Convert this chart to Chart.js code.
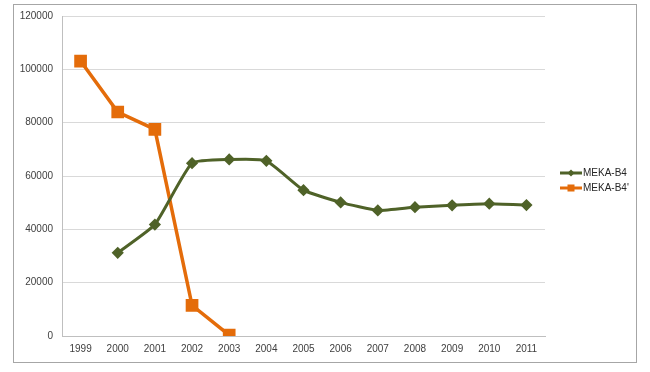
<!DOCTYPE html>
<html>
<head>
<meta charset="utf-8">
<script src="https://cdn.jsdelivr.net/npm/chart.js@4"></script>
<style>
  html, body { margin: 0; padding: 0; background: #fff; }
  #wrap { position: relative; width: 650px; height: 372px; }
  #frame { position: absolute; left: 13px; top: 4px; width: 624px; height: 359px; border: 1px solid #a6a6a6; box-sizing: border-box; }
  canvas { position: absolute; left: 0; top: 0; }
</style>
</head>
<body>
<div id="wrap">
  <div id="frame"></div>
  <canvas id="chart" width="650" height="372"></canvas>
</div>
<script>
const years = ['1999', '2000', '2001', '2002', '2003', '2004', '2005', '2006', '2007', '2008', '2009', '2010', '2011'];
const mekaB4 = [null, 31200, 41800, 64800, 66200, 65700, 54700, 50100, 47100, 48300, 49000, 49600, 49100];
const mekaB4p = [103100, 84000, 77500, 11500, 300, null, null, null, null, null, null, null, null];
const seriesNames = ['MEKA-B4', "MEKA-B4'"];
const yTicks = [0, 20000, 40000, 60000, 80000, 100000, 120000];

const green = '#4f6228';
const orange = '#e46c0a';

// legend drawn as line + marker like the original
const sideLegend = {
    id: 'sideLegend',
    afterDraw(chart) {
        const ctx = chart.ctx;
        const x0 = 560;
        let y = 173;
        chart.data.datasets.forEach(ds => {
            ctx.save();
            ctx.strokeStyle = ds.borderColor;
            ctx.lineWidth = 3;
            ctx.beginPath();
            ctx.moveTo(x0, y);
            ctx.lineTo(x0 + 22, y);
            ctx.stroke();
            ctx.fillStyle = ds.pointBackgroundColor;
            if (ds.pointStyle === 'rectRot') {
                ctx.beginPath();
                ctx.moveTo(x0 + 11, y - 3.5);
                ctx.lineTo(x0 + 14.5, y);
                ctx.lineTo(x0 + 11, y + 3.5);
                ctx.lineTo(x0 + 7.5, y);
                ctx.closePath();
                ctx.fill();
            } else {
                ctx.fillRect(x0 + 7.5, y - 3.5, 7, 7);
            }
            ctx.fillStyle = '#262626';
            ctx.font = '10px "Liberation Sans", Arial, sans-serif';
            ctx.textBaseline = 'middle';
            ctx.fillText(ds.label, x0 + 23, y + 0.5);
            ctx.restore();
            y += 15;
        });
    }
};

new Chart(document.getElementById('chart'), {
    type: 'line',
    data: {
        labels: years,
        datasets: [{
            label: seriesNames[0],
            data: mekaB4,
            borderColor: green,
            backgroundColor: green,
            pointBackgroundColor: green,
            pointBorderColor: green,
            pointStyle: 'rectRot',
            pointRadius: 4,
            borderWidth: 3,
            tension: 0.15
        }, {
            label: seriesNames[1],
            data: mekaB4p,
            borderColor: orange,
            backgroundColor: orange,
            pointBackgroundColor: orange,
            pointBorderColor: orange,
            pointStyle: 'rect',
            pointRadius: 6.5,
            borderWidth: 3.5,
            tension: 0
        }]
    },
    options: {
        responsive: false,
        animation: false,
        layout: { padding: { left: 0, right: 105, top: 16, bottom: 0 } },
        plugins: {
            legend: { display: false },
            tooltip: { enabled: false }
        },
        scales: {
            x: {
                offset: true,
                grid: { display: false, drawTicks: false },
                border: { color: '#bfbfbf', width: 1 },
                ticks: {
                    color: '#404040',
                    padding: 7,
                    maxRotation: 0,
                    font: { family: '"Liberation Sans", Arial, sans-serif', size: 10 }
                },
                afterFit(scale) { scale.height = 36; }
            },
            y: {
                min: 0,
                max: 120000,
                afterBuildTicks(scale) { scale.ticks = yTicks.map(v => ({ value: v })); },
                grid: { color: '#d9d9d9', lineWidth: 1, drawTicks: false },
                border: { color: '#bfbfbf', width: 1 },
                ticks: {
                    color: '#404040',
                    padding: 9,
                    font: { family: '"Liberation Sans", Arial, sans-serif', size: 10 },
                    callback: v => String(v)
                },
                afterFit(scale) { scale.width = 62; }
            }
        }
    },
    plugins: [sideLegend]
});
</script>
</body>
</html>
